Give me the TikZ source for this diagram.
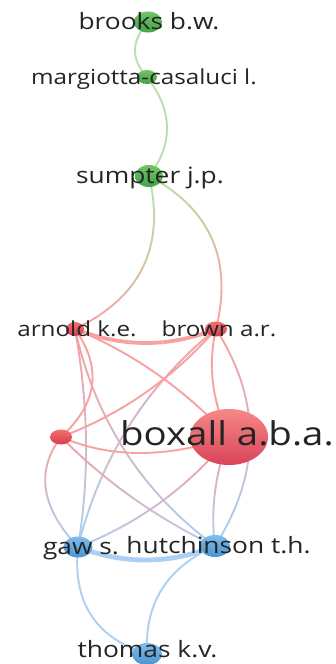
\documentclass[tikz,border=0pt]{standalone}
\usepackage{fontspec}
\setmainfont{Open Sans}
\usepackage{graphicx}
\usetikzlibrary{calc,shapes.geometric,backgrounds}

% cluster colours
\definecolor{gtop}{RGB}{112,196,102}
\definecolor{gbot}{RGB}{68,163,72}
\definecolor{rtop}{RGB}{242,112,112}
\definecolor{rbot}{RGB}{214,62,76}
\definecolor{bigtop}{RGB}{246,136,136}
\definecolor{bigbot}{RGB}{216,68,88}
\definecolor{btop}{RGB}{128,188,236}
\definecolor{bbot}{RGB}{74,148,210}
\definecolor{gline}{RGB}{182,226,168}
\definecolor{rline}{RGB}{249,160,160}
\definecolor{bline}{RGB}{172,208,243}
\definecolor{labelgray}{RGB}{36,36,36}

\tikzset{
  vnode/.style={ellipse, draw=none, inner sep=0pt},
  gnode/.style={vnode, top color=gtop, bottom color=gbot},
  rnode/.style={vnode, top color=rtop, bottom color=rbot},
  bignode/.style={vnode, top color=bigtop, bottom color=bigbot},
  bnode/.style={vnode, top color=btop, bottom color=bbot},
  lbl/.style={anchor=mid, text=labelgray, inner sep=0pt, font=\fontsize{22.5}{24}\selectfont},
  lblsmall/.style={lbl, font=\fontsize{20.7}{22}\selectfont},
  lblbig/.style={lbl, font=\fontsize{32.8}{34}\selectfont},
}

\newcommand\wide[1]{\scalebox{1.17}[1]{#1}}

% curved link from #2 to #3 through the point #4, coloured from #5 to #6
\newcommand\arcedge[6][1.9]{%
  \coordinate (eA) at (#2.center);
  \coordinate (eB) at (#3.center);
  \coordinate (eM) at (#4);
  \coordinate (eC) at ($2*(eM)-0.5*(eA)-0.5*(eB)$);
  \coordinate (e1) at ($(eA)!0.6667!(eC)$);
  \coordinate (e2) at ($(eB)!0.6667!(eC)$);
  \foreach \k in {0,...,7}{%
    \pgfmathsetmacro\ta{\k/8}%
    \pgfmathsetmacro\tb{(\k+1)/8}%
    \pgfmathtruncatemacro\pc{(\k+0.5)*12.5}%
    \colorlet{segc}{#6!\pc!#5}%
    \coordinate (qa0) at ($(eA)!\ta!(e1)$);
    \coordinate (qa1) at ($(e1)!\ta!(e2)$);
    \coordinate (qa2) at ($(e2)!\ta!(eB)$);
    \coordinate (ra0) at ($(qa0)!\ta!(qa1)$);
    \coordinate (ra1) at ($(qa1)!\ta!(qa2)$);
    \coordinate (sa) at ($(ra0)!\ta!(ra1)$);
    \coordinate (qb0) at ($(eA)!\tb!(e1)$);
    \coordinate (qb1) at ($(e1)!\tb!(e2)$);
    \coordinate (qb2) at ($(e2)!\tb!(eB)$);
    \coordinate (rb0) at ($(qb0)!\tb!(qb1)$);
    \coordinate (rb1) at ($(qb1)!\tb!(qb2)$);
    \coordinate (sb) at ($(rb0)!\tb!(rb1)$);
    \coordinate (ca) at ($(sa)+0.125*(ra1)-0.125*(ra0)$);
    \coordinate (cb) at ($(sb)-0.125*(rb1)+0.125*(rb0)$);
    \draw[line width=#1, segc] (sa) .. controls (ca) and (cb) .. (sb);
  }%
}

\begin{document}
\begin{tikzpicture}[x=1pt, y=-1pt]
\useasboundingbox (0,0) rectangle (335,664);

% author circles
\node[gnode, minimum width=28pt, minimum height=21pt] (brooks) at (148,22) {};
\node[gnode, minimum width=20pt, minimum height=14pt] (marg) at (147,77) {};
\node[gnode, minimum width=28pt, minimum height=22pt] (sumpter) at (149,176) {};
\node[rnode, minimum width=18pt, minimum height=14pt] (arnold) at (75,329) {};
\node[rnode, minimum width=22pt, minimum height=15pt] (brown) at (216,329) {};
\node[rnode, minimum width=22pt, minimum height=15pt] (redsmall) at (61,437) {};
\node[bignode, minimum width=78pt, minimum height=56pt] (boxall) at (229,437) {};
\node[bnode, minimum width=29pt, minimum height=21pt] (gaw) at (78,547) {};
\node[bnode, minimum width=30pt, minimum height=22pt] (hutch) at (215,546) {};
\node[bnode, minimum width=30pt, minimum height=22pt] (thomas) at (147,654) {};

% co-authorship links, below the circles
\begin{pgfonlayer}{background}
  \fill[white] (0,0) rectangle (335,664);

  \arcedge{brooks}{marg}{135,50}{gline}{gline}
  \arcedge{marg}{sumpter}{167,127}{gline}{gline}
  \arcedge{sumpter}{arnold}{143,267}{gline}{rline}
  \arcedge{sumpter}{brown}{212,239}{gline}{rline}

  \arcedge{arnold}{gaw}{86,440}{rline}{bline}
  \arcedge{arnold}{hutch}{125,451}{rline}{bline}
  \arcedge{brown}{gaw}{129,426}{rline}{bline}
  \arcedge{brown}{hutch}{250,437}{rline}{bline}
  \arcedge{redsmall}{gaw}{46,490}{rline}{bline}
  \arcedge{redsmall}{hutch}{133,498}{rline}{bline}
  \arcedge{boxall}{gaw}{161,502}{rline}{bline}
  \arcedge{boxall}{hutch}{215,492}{rline}{bline}

  \arcedge[3.8]{arnold}{brown}{146,343}{rline}{rline}
  \arcedge{arnold}{boxall}{157,374}{rline}{rline}
  \arcedge{arnold}{redsmall}{92,385}{rline}{rline}
  \arcedge{brown}{redsmall}{145,393}{rline}{rline}
  \arcedge{redsmall}{boxall}{140,453}{rline}{rline}
  \arcedge{brown}{boxall}{213,383}{rline}{rline}

  \arcedge[4.8]{gaw}{hutch}{147,560}{bline}{bline}
  \arcedge{gaw}{thomas}{91,615}{bline}{bline}
  \arcedge{hutch}{thomas}{162,589}{bline}{bline}
\end{pgfonlayer}

% author names
\node[lbl] (tbrooks) at (149,27) {\wide{brooks b.w.}};
\node[lblsmall] (tmarg) at (144,82) {\wide{margiotta-casaluci l.}};
\node[lbl] (tsumpter) at (150,181) {\wide{sumpter j.p.}};
\node[lblsmall] (tarnold) at (77,334) {\wide{arnold k.e.}};
\node[lblsmall] (tbrown) at (219,334) {\wide{brown a.r.}};
\node[lblbig] (tboxall) at (227,443) {\wide{boxall a.b.a.}};
\node[lbl] (tgaw) at (81,552) {\wide{gaw s.}};
\node[lbl] (thutch) at (218.5,551) {\wide{hutchinson t.h.}};
\node[lbl] (tthomas) at (147.5,655) {\wide{thomas k.v.}};
\end{tikzpicture}
\end{document}
